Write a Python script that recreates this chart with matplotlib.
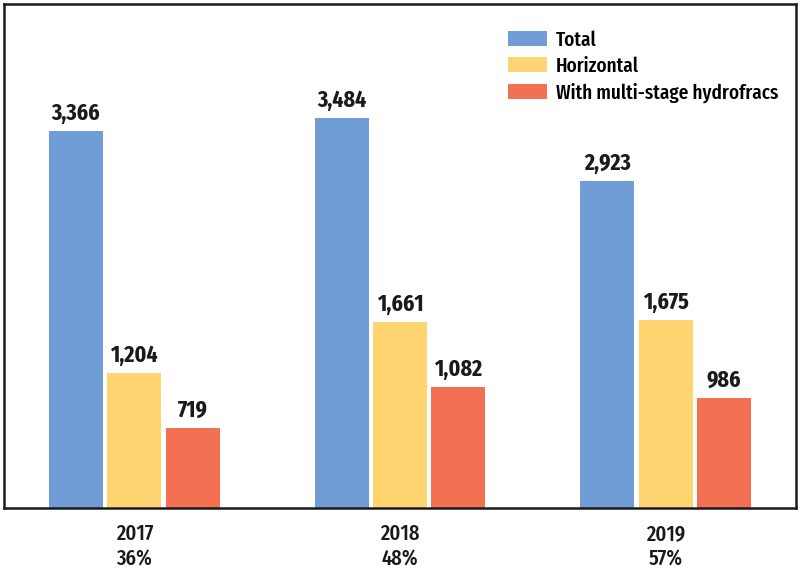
import matplotlib.pyplot as plt
from matplotlib.patches import Patch
import numpy as np

years = ['2017', '2018', '2019']
shares = ['36%', '48%', '57%']
total = [3366, 3484, 2923]
horizontal = [1204, 1661, 1675]
hydrofracs = [719, 1082, 986]
series_names = ['Total', 'Horizontal', 'With multi-stage hydrofracs']
colors = ['#709DD5', '#FED570', '#F37053']

plt.rcParams['font.family'] = ['Fira Sans Extra Condensed', 'DejaVu Sans']

fig = plt.figure(figsize=(8, 5.78), dpi=100)
ax = fig.add_axes([0.005, 0.121, 0.99, 0.872])

x = np.arange(len(years))
w = 0.203
off = 0.22
for i, (vals, c) in enumerate(zip([total, horizontal, hydrofracs], colors)):
    pos = x + (i - 1) * off
    bars = ax.bar(pos, vals, width=w, color=c, zorder=2)
    for b, v in zip(bars, vals):
        ax.text(b.get_x() + b.get_width() / 2, v + 55, f'{v:,}',
                ha='center', va='bottom', fontsize=17, fontweight='bold', color='#1a1a1a')

ax.set_xlim(-0.49, 2.49)
ax.set_ylim(0, 4500)
ax.set_yticks([])
ax.set_xticks(x)
ax.set_xticklabels([f'{y}\n{s}' for y, s in zip(years, shares)], fontsize=16,
                   fontweight='medium', color='#1a1a1a', linespacing=1.25)
ax.tick_params(axis='x', length=0, pad=11)
for s in ax.spines.values():
    s.set_linewidth(1.8)
    s.set_color('#1a1a1a')

handles = [Patch(facecolor=c, label=n) for c, n in zip(colors, series_names)]
ax.legend(handles=handles, loc='upper left', bbox_to_anchor=(0.636, 0.948), frameon=False,
          prop={'size': 15, 'weight': 'medium'}, handlelength=1.87, handleheight=0.77,
          handletextpad=0.43, labelspacing=0.32, borderaxespad=0, borderpad=0)

fig.savefig('out.png', dpi=100)
